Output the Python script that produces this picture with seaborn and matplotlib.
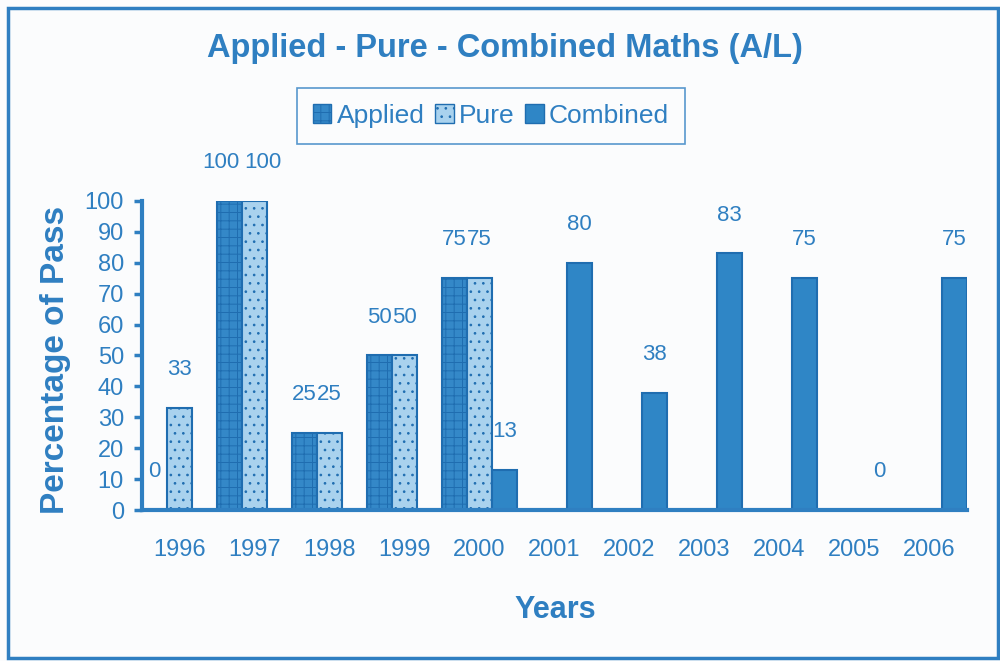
import numpy as np
import pandas as pd
import matplotlib
matplotlib.use("Agg")
import matplotlib.pyplot as plt
import seaborn as sns
from matplotlib.patches import Rectangle

# data (NaN = no bar)
years = ["1996", "1997", "1998", "1999", "2000", "2001",
         "2002", "2003", "2004", "2005", "2006"]
applied = [0, 100, 25, 50, 75, np.nan, np.nan, np.nan, np.nan, np.nan, np.nan]
pure = [33, 100, 25, 50, 75, np.nan, np.nan, np.nan, np.nan, np.nan, np.nan]
combined = [np.nan, np.nan, np.nan, np.nan, 13, 80, 38, 83, 75, 0, 75]
subjects = ["Applied", "Pure", "Combined"]

df = pd.DataFrame({"Year": years, "Applied": applied, "Pure": pure, "Combined": combined})
df = df.melt(id_vars="Year", var_name="Subject", value_name="Pass")

blue = "#2f7fc1"
dark = "#1f6db0"
palette = {"Applied": "#3488c8", "Pure": "#a9d2ee", "Combined": "#2f86c6"}
hatches = {"Applied": "++", "Pure": "..", "Combined": ""}

sns.set_theme(style="white")
plt.rcParams["font.family"] = ["Liberation Sans", "DejaVu Sans"]
plt.rcParams["hatch.linewidth"] = 0.7

fig = plt.figure(figsize=(10, 6.61), dpi=100, facecolor="#fbfcfd")
ax = fig.add_axes([0.142, 0.2284, 0.825, 0.4676])
ax.set_facecolor("none")

sns.barplot(data=df, x="Year", y="Pass", hue="Subject", hue_order=subjects,
            order=years, palette=palette, saturation=1, width=1.0, gap=0,
            errorbar=None, edgecolor=dark, linewidth=1.5, ax=ax)

for cont, s in zip(ax.containers, subjects):
    for bar in cont:
        bar.set_hatch(hatches[s])

for i, cont in enumerate(ax.containers):
    texts = ax.bar_label(cont, labels=[f"{v:g}" for v in cont.datavalues],
                         padding=20, fontsize=16, color=blue)
    # the two "100" labels sit side by side, push them apart a little
    for t, v in zip(texts, cont.datavalues):
        if v >= 100:
            t.xyann = (-6 if i == 0 else 6, 20)

ax.set_xlim(-0.5, 10.5)
ax.set_ylim(0, 100)
ax.set_yticks(range(0, 101, 10))
ax.set_xticks(np.arange(-0.5, 11, 1.0), minor=True)
ax.set_xticks(range(len(years)))
ax.set_xticklabels(years)
ax.tick_params(axis="x", which="major", length=0, pad=21, labelsize=17, labelcolor=blue)
ax.tick_params(axis="x", which="minor", length=8, width=2.5, color=blue, direction="out")
ax.tick_params(axis="y", length=6, width=2.5, color=blue, labelsize=17,
               labelcolor=blue, direction="out", left=True, pad=7)
ax.set_xlabel("")
ax.set_ylabel("")
for side in ["top", "right"]:
    ax.spines[side].set_visible(False)
for side in ["left", "bottom"]:
    ax.spines[side].set_color(blue)
    ax.spines[side].set_linewidth(3)

ax.legend_.remove()
handles = [Rectangle((0, 0), 1, 1, facecolor=palette[s], edgecolor=dark,
                     hatch=hatches[s], linewidth=1) for s in subjects]
leg = fig.legend(handles, subjects, loc="center", bbox_to_anchor=(0.491, 0.825),
                 ncol=3, frameon=True, fancybox=False, handlelength=0.7,
                 handleheight=0.7, handletextpad=0.2, columnspacing=0.4,
                 fontsize=19, borderpad=0.6)
leg.get_frame().set_edgecolor(blue)
leg.get_frame().set_linewidth(1.2)
leg.get_frame().set_facecolor("none")
for t in leg.get_texts():
    t.set_color(blue)

fig.text(0.505, 0.927, "Applied - Pure - Combined Maths (A/L)", ha="center", va="center",
         fontsize=23.5, fontweight="bold", color=blue)
fig.text(0.056, 0.455, "Percentage of Pass", rotation=90, ha="center", va="center",
         fontsize=24, fontweight="bold", color=blue)
fig.text(0.555, 0.077, "Years", ha="center", va="center",
         fontsize=22, fontweight="bold", color=blue)

# outer frame of the scanned figure
fig.patches.append(Rectangle((0.008, 0.005), 0.99, 0.983, transform=fig.transFigure,
                             fill=False, edgecolor=blue, linewidth=2.5))

fig.savefig("out.png", dpi=100, facecolor=fig.get_facecolor())
